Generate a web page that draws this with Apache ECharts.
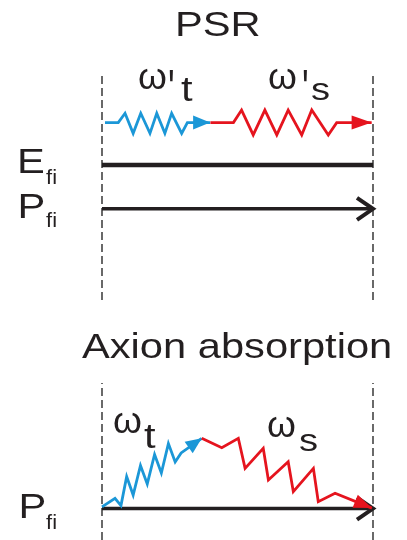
<!DOCTYPE html>
<html>
<head>
<meta charset="utf-8">
<script src="https://cdn.jsdelivr.net/npm/echarts@6/dist/echarts.min.js"></script>
<style>
  html, body { margin: 0; padding: 0; background: #ffffff; }
  #chart { width: 407px; height: 540px; }
</style>
</head>
<body>
<div id="chart"></div>
<script>
// Diagram units: x runs 0..100 between the two dashed boundaries,
// y runs upward from the bottom edge of each panel.

// ---- PSR panel ----
const psrLeftBoundary  = [[0, 0], [0, 100]];
const psrRightBoundary = [[100, 0], [100, 100]];
const psrEnergy   = [[0, 59.2], [100, 59.2]];
const psrMomentum = [[0, 40], [100, 40]];
const psrTensor = [
  [1.1, 77.8], [6.0, 77.8], [8.5, 81.9], [11.5, 73.1], [14.3, 81.9], [17.7, 73.1],
  [20.2, 81.9], [23.2, 73.1], [25.7, 81.9], [29.4, 73.1], [31.5, 77.8], [39.9, 77.8]
];
const psrScalar = [
  [40.0, 77.8], [48.5, 77.8], [51.5, 83.3], [55.8, 72.4], [60.1, 83.3], [64.5, 72.4],
  [68.7, 83.3], [73.7, 72.4], [77.4, 83.3], [83.5, 72.4], [86.6, 77.8], [99.5, 77.8]
];

// ---- Axion absorption panel ----
const absLeftBoundary  = [[0, 0], [0, 68.9]];
const absRightBoundary = [[100, 0], [100, 68.9]];
const absMomentum = [[0, 13.8], [100, 13.8]];
const absTensor = [
  [0, 14.5], [4.8, 18.3], [7.0, 15.1], [9.1, 27.8], [11.5, 19.7], [14.2, 32.7],
  [16.7, 24.6], [19.4, 37.5], [21.9, 29.4], [24.5, 42.3], [27.0, 34.2], [29.2, 38.2],
  [36.8, 44.6]
];
const absScalar = [
  [36.8, 44.6], [44.2, 40.5], [50.3, 44.6], [52.8, 31.4], [59.5, 40.2], [61.4, 26.3],
  [68.7, 34.3], [70.6, 21.2], [78.0, 31.4], [79.8, 16.8], [86.0, 20.5], [99.6, 14.0]
];

const INK = '#231f20';
const BLUE = '#1b97d7';
const RED = '#e5141e';
const DASH = '#2a2a2a';
const FONT = '"Liberation Sans", Arial, sans-serif';

// arrow head sitting on the last point of a path, aimed from the point before it
function headOf(path) {
  const tip = path[path.length - 1];
  const prev = path[path.length - 2];
  return [[tip[0], tip[1], prev[0], prev[1]]];
}

function arrowRenderer(kind, len, half, width) {
  return function (params, api) {
    const tip = api.coord([api.value(0), api.value(1)]);
    const from = api.coord([api.value(2), api.value(3)]);
    let dx = tip[0] - from[0], dy = tip[1] - from[1];
    const d = Math.hypot(dx, dy) || 1;
    dx /= d; dy /= d;
    const bx = tip[0] - dx * len, by = tip[1] - dy * len;
    const p1 = [bx - dy * half, by + dx * half];
    const p2 = [bx + dy * half, by - dx * half];
    const color = api.visual('color');
    if (kind === 'solid') {
      return { type: 'polygon', shape: { points: [tip, p1, p2] }, style: { fill: color } };
    }
    return {
      type: 'polyline', shape: { points: [p1, tip, p2] },
      style: { stroke: color, lineWidth: width, fill: null, lineJoin: 'miter', lineCap: 'butt' }
    };
  };
}

function path(name, grid, data, color, width, dashed, z) {
  return {
    name, type: 'line', xAxisIndex: grid, yAxisIndex: grid, data,
    symbol: 'none', clip: false, silent: true, z: z || 2,
    lineStyle: { color, width, type: dashed ? [8, 4] : 'solid', cap: 'butt', join: 'miter' }
  };
}

function head(name, grid, data, color, kind, len, half, width, z) {
  return {
    name, type: 'custom', xAxisIndex: grid, yAxisIndex: grid, data,
    clip: false, silent: true, z: z || 3,
    itemStyle: { color },
    renderItem: arrowRenderer(kind, len, half, width)
  };
}

// text placed by its left edge and alphabetic baseline
function label(text, left, baseline, size, sx, sy) {
  return {
    type: 'text', x: left, y: baseline, scaleX: sx || 1, scaleY: sy || 1, silent: true,
    style: {
      text, x: 0, y: -0.3465 * size, font: size + 'px ' + FONT, fill: INK,
      align: 'left', verticalAlign: 'middle', textAlign: 'left', textVerticalAlign: 'middle'
    }
  };
}

const chart = echarts.init(document.getElementById('chart'), null, { renderer: 'canvas' });

const hiddenX = (i) => ({ type: 'value', gridIndex: i, min: 0, max: 100, show: false });
const hiddenY = (i, max) => ({ type: 'value', gridIndex: i, min: 0, max, show: false });

chart.setOption({
  animation: false,
  backgroundColor: '#ffffff',
  grid: [
    { left: 102, width: 271, top: 72, height: 228 },
    { left: 102, width: 271, top: 380.4, height: 159.6 }
  ],
  xAxis: [hiddenX(0), hiddenX(1)],
  yAxis: [hiddenY(0, 100), hiddenY(1, 70)],
  series: [
    path('psr-left', 0, psrLeftBoundary, DASH, 1.4, true, 1),
    path('psr-right', 0, psrRightBoundary, DASH, 1.4, true, 1),
    path('E_fi', 0, psrEnergy, INK, 4.5, false),
    path('P_fi', 0, psrMomentum, INK, 3.5, false),
    head('P_fi-head', 0, headOf(psrMomentum), INK, 'open', 16, 11, 4),
    path("ω't", 0, psrTensor, BLUE, 2.8, false),
    head("ω't-head", 0, headOf(psrTensor), BLUE, 'solid', 17, 7),
    path("ω's", 0, psrScalar, RED, 2.8, false),
    head("ω's-head", 0, headOf(psrScalar), RED, 'solid', 20, 7),

    path('abs-left', 1, absLeftBoundary, DASH, 1.4, true, 1),
    path('abs-right', 1, absRightBoundary, DASH, 1.4, true, 1),
    path('P_fi-abs', 1, absMomentum, INK, 3.5, false),
    head('P_fi-abs-head', 1, headOf(absMomentum), INK, 'open', 16, 11, 4),
    path('ωt', 1, absTensor, BLUE, 2.8, false),
    head('ωt-head', 1, headOf(absTensor), BLUE, 'solid', 16, 7),
    path('ωs', 1, absScalar, RED, 2.8, false, 4),
    head('ωs-head', 1, headOf(absScalar), RED, 'solid', 18, 7, 0, 5)
  ],
  graphic: [
    label('PSR', 175, 38, 35, 1.19),
    label('Axion absorption', 82, 360, 35, 1.19),

    label('E', 17, 175, 35, 1.19),
    label('fi', 46, 185, 21, 1.05),
    label('P', 17.5, 220, 35, 1.19),
    label('fi', 46, 228, 21, 1.05),
    label('P', 18.5, 520, 35, 1.19),
    label('fi', 46, 530, 21, 1.05),

    label('ω', 138, 92, 37, 1),
    label("'", 168, 109.6, 35, 1, 1.5),
    label('t', 181, 103, 35, 1.19),
    label('ω', 268, 92, 37, 1),
    label("'", 302, 109.6, 35, 1, 1.5),
    label('s', 311, 102, 32, 1.19),

    label('ω', 113, 436, 37, 1),
    label('t', 144, 450, 35, 1.19),
    label('ω', 267, 440, 37, 1),
    label('s', 299, 453, 32, 1.19)
  ]
});
</script>
</body>
</html>
